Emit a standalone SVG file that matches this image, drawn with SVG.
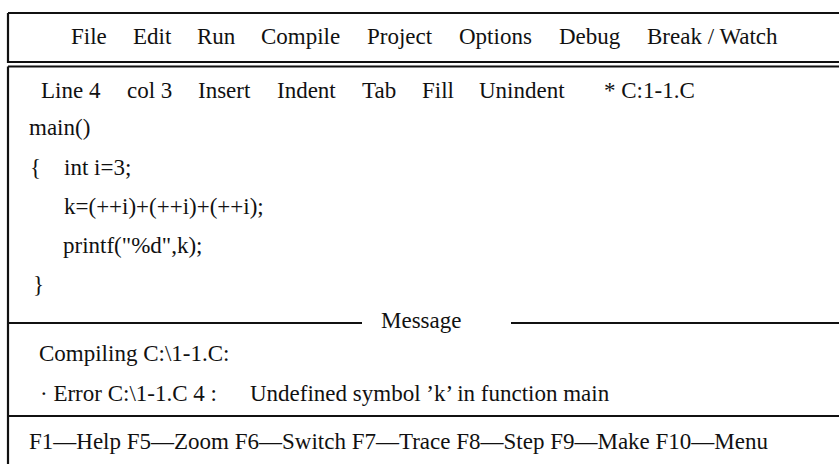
<svg xmlns="http://www.w3.org/2000/svg" width="839" height="464" viewBox="0 0 839 464">
<style>
text{font-family:"Liberation Serif","Times New Roman",serif;font-size:23px;fill:#111}
.ln{stroke:#111;stroke-width:2.2;fill:none}
</style>
<rect x="0" y="0" width="839" height="464" fill="#fff"/>
<g id="frame">
<path class="ln" d="M8,13 H845 M8,13 V62 H845"/>
<path class="ln" d="M8,66.5 H845 M8,66.5 V464"/>
<path class="ln" d="M8,323 H362 M511,323 H845"/>
<path class="ln" d="M8,416 H845"/>
</g>
<g id="menu">
<text x="71" y="44">File</text>
<text x="133" y="44">Edit</text>
<text x="197" y="44">Run</text>
<text x="261" y="44">Compile</text>
<text x="367" y="44">Project</text>
<text x="459" y="44">Options</text>
<text x="559" y="44">Debug</text>
<text x="647" y="44">Break / Watch</text>
</g>
<g id="status">
<text x="41" y="98">Line 4</text>
<text x="127" y="98">col 3</text>
<text x="198" y="98">Insert</text>
<text x="277" y="98">Indent</text>
<text x="362" y="98">Tab</text>
<text x="422" y="98">Fill</text>
<text x="479" y="98">Unindent</text>
<text x="604" y="98">* C:1-1.C</text>
</g>
<g id="code">
<text x="29" y="135">main()</text>
<text x="30" y="174.5">{</text>
<text x="64" y="174.5">int i=3;</text>
<text x="64" y="214">k=(++i)+(++i)+(++i);</text>
<text x="63" y="253">printf("%d",k);</text>
<text x="33" y="292">}</text>
</g>
<g id="message">
<text x="381" y="328">Message</text>
<text x="39" y="361">Compiling C:\1-1.C:</text>
<text x="40" y="401">· Error C:\1-1.C 4 :</text>
<text x="250" y="401">Undefined symbol ’k’ in function main</text>
</g>
<g id="keys">
<text x="29" y="449">F1—Help F5—Zoom F6—Switch F7—Trace F8—Step F9—Make F10—Menu</text>
</g>
</svg>
